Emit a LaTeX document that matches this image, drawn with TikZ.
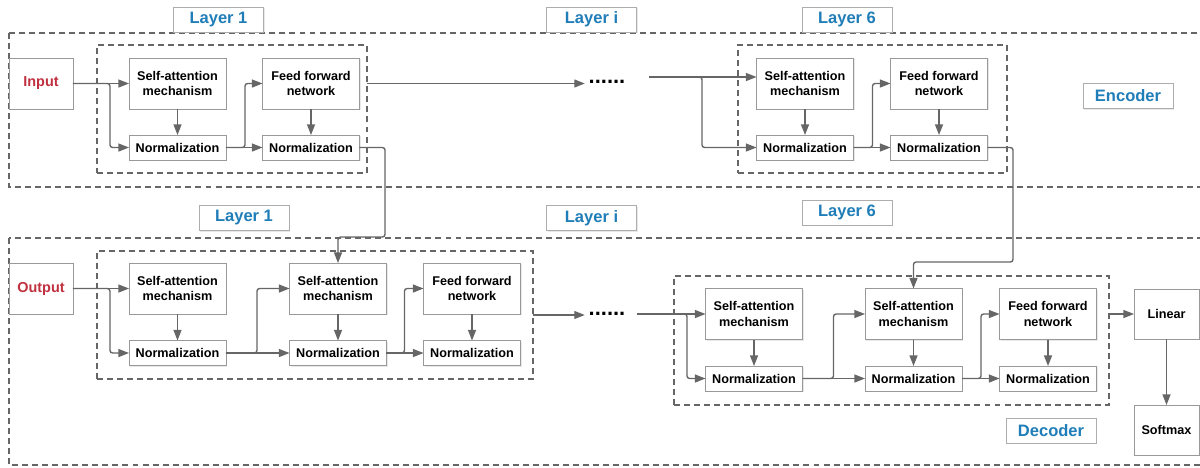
\documentclass[tikz,border=0pt]{standalone}
\usepackage{fontspec}
\setmainfont{Liberation Sans}
\usetikzlibrary{arrows.meta,shadows}

\definecolor{arrgray}{HTML}{666666}
\definecolor{boxgray}{HTML}{999999}
\definecolor{inred}{HTML}{C0303F}
\definecolor{tagblue}{HTML}{1F7DB8}

\begin{document}
\begin{tikzpicture}[x=0.02cm,y=-0.02cm,
  block/.style={draw=boxgray,fill=white,line width=0.5pt,inner sep=0pt,outer sep=0pt,align=center,
    drop shadow={opacity=0.18,shadow xshift=0.7pt,shadow yshift=-0.7pt},
    font=\fontsize{7.2}{9}\selectfont\bfseries},
  bigbox/.style={block,minimum width=1.94cm,minimum height=1.02cm},
  normbox/.style={block,minimum width=1.94cm,minimum height=0.5cm},
  layertag/.style={block,draw=boxgray!80,text=tagblue,minimum width=1.8cm,minimum height=0.5cm,
    font=\fontsize{9.4}{11}\selectfont\bfseries},
  layerbox/.style={draw=arrgray,line width=1pt,dash pattern=on 3.4pt off 2.3pt,inner sep=0pt,outer sep=0pt},
  dotrow/.style={font=\fontsize{12.5}{12}\selectfont\bfseries,inner sep=2pt},
  arr/.style={draw=arrgray,line width=0.8pt,-{Triangle[length=6pt,width=4.5pt]},rounded corners=1.5pt}]
\useasboundingbox (0,0) rectangle (1200,467);

% Encoder and decoder frames.
\draw[layerbox] (9,33) rectangle (1215,187);
\draw[layerbox] (9,238) rectangle (1215,465);

\node[layertag] (etag1) at (218.5,19.5) {Layer 1};
\node[layertag] (etagi) at (591.5,19.5) {Layer i};
\node[layertag] (etag6) at (847,19.5) {Layer 6};
\node[layertag] (enc) at (1128,96) {Encoder};
\node[layertag] (dtag1) at (244,218) {Layer 1};
\node[layertag] (dtagi) at (591.5,218) {Layer i};
\node[layertag] (dtag6) at (847,212.5) {Layer 6};
\node[layertag] (dec) at (1051,430.5) {Decoder};

% Encoder layers.
\node[layerbox,minimum width=5.4cm,minimum height=2.56cm] (elay1) at (232,109) {};
\node[layerbox,minimum width=5.38cm,minimum height=2.56cm] (elay6) at (872.5,109) {};

\node[block,minimum width=1.28cm,minimum height=1.02cm,text=inred,font=\fontsize{8.2}{10}\selectfont\bfseries] (inp) at (41,83.5) {Input};
\node[bigbox] (eSA1) at (177.5,83.5) {Self-attention\\mechanism};
\node[normbox] (eN1) at (177.5,147.5) {Normalization};
\node[bigbox] (eFF1) at (311,83.5) {Feed forward\\network};
\node[normbox] (eN1b) at (311,147.5) {Normalization};

\node[dotrow] (edots) at (607,82) {......};

\node[bigbox] (eSA6) at (805,83.5) {Self-attention\\mechanism};
\node[normbox] (eN6) at (805,147.5) {Normalization};
\node[bigbox] (eFF6) at (939,83.5) {Feed forward\\network};
\node[normbox] (eN6b) at (939,147.5) {Normalization};

% Decoder layers.
\node[layerbox,minimum width=8.72cm,minimum height=2.56cm] (dlay1) at (315,315) {};
\node[layerbox,minimum width=8.7cm,minimum height=2.58cm] (dlay6) at (891.5,340.5) {};

\node[block,minimum width=1.28cm,minimum height=1.02cm,text=inred,font=\fontsize{8.2}{10}\selectfont\bfseries] (out) at (41,288.5) {Output};
\node[bigbox] (dSA1) at (177.5,288.5) {Self-attention\\mechanism};
\node[normbox] (dN1) at (177.5,353) {Normalization};
\node[bigbox] (dSA1b) at (338,288.5) {Self-attention\\mechanism};
\node[normbox] (dN1b) at (338,353) {Normalization};
\node[bigbox] (dFF1) at (472,288.5) {Feed forward\\network};
\node[normbox] (dN1c) at (472,353) {Normalization};

\node[dotrow] (ddots) at (607,314) {......};

\node[bigbox] (dSA6) at (754,314) {Self-attention\\mechanism};
\node[normbox] (dN6) at (754,378.5) {Normalization};
\node[bigbox] (dSA6b) at (913.5,314) {Self-attention\\mechanism};
\node[normbox] (dN6b) at (913.5,378.5) {Normalization};
\node[bigbox] (dFF6) at (1048,314) {Feed forward\\network};
\node[normbox] (dN6c) at (1048,378.5) {Normalization};

\node[block,minimum width=1.3cm,minimum height=1cm] (lin) at (1166.5,314) {Linear};
\node[block,minimum width=1.3cm,minimum height=1cm] (soft) at (1166.5,430) {Softmax};

% Encoder connections.
\draw[arr] (inp) -- (eSA1);
\draw[arr] (inp.east) -- ++(37,0) |- (eN1.west);
\draw[arr] (eSA1) -- (eN1);
\draw[arr] (eN1) -- (eN1b);
\draw[arr] (eN1.east) -- ++(19,0) |- (eFF1.west);
\draw[arr] (eFF1) -- (eN1b);
\draw[arr] (elay1.east |- eFF1.east) -- (edots.west |- eFF1.east);

\coordinate (e6in) at (649,77);
\draw[arr] (e6in) -- (e6in -| eSA6.west);
\draw[arr] (e6in) -- ++(53,0) |- (eN6.west);
\draw[arr] (eSA6) -- (eN6);
\draw[arr] (eN6) -- (eN6b);
\draw[arr] (eN6.east) -- ++(19,0) |- (eFF6.west);
\draw[arr] (eFF6) -- (eN6b);

% Encoder to decoder.
\coordinate (cross1) at (385,237);
\coordinate (cross6) at (1013,262);
\draw[arr] (eN1b.east) -| (cross1) -| (dSA1b.north);
\draw[arr] (eN6b.east) -| (cross6) -| (dSA6b.north);

% Decoder connections.
\draw[arr] (out) -- (dSA1);
\draw[arr] (out.east) -- ++(37,0) |- (dN1.west);
\draw[arr] (dSA1) -- (dN1);
\draw[arr] (dN1) -- (dN1b);
\draw[arr] (dN1.east) -- ++(31,0) |- (dSA1b.west);
\draw[arr] (dSA1b) -- (dN1b);
\draw[arr] (dN1b) -- (dN1c);
\draw[arr] (dN1b.east) -- ++(18,0) |- (dFF1.west);
\draw[arr] (dFF1) -- (dN1c);
\draw[arr] (dlay1.east) -- (dlay1.east -| ddots.west);

\coordinate (d6in) at (637,314);
\draw[arr] (d6in) -- (dSA6.west);
\draw[arr] (d6in) -- ++(50,0) |- (dN6.west);
\draw[arr] (dSA6) -- (dN6);
\draw[arr] (dN6) -- (dN6b);
\draw[arr] (dN6.east) -- ++(31,0) |- (dSA6b.west);
\draw[arr] (dSA6b) -- (dN6b);
\draw[arr] (dN6b) -- (dN6c);
\draw[arr] (dN6b.east) -- ++(19,0) |- (dFF6.west);
\draw[arr] (dFF6) -- (dN6c);
\draw[arr] (dlay6.east |- lin.west) -- (lin.west);
\draw[arr] (lin) -- (soft);
\end{tikzpicture}
\end{document}
